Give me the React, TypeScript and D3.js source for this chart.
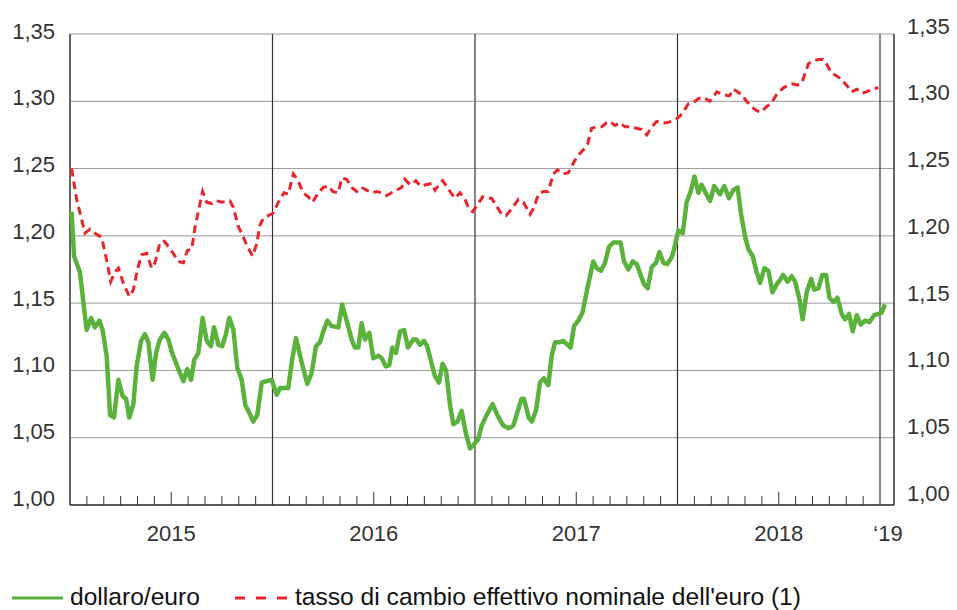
import React from 'react'
import * as d3 from 'd3'

// time is in years from 1 Jan 2015
const dollarEuro: [number, number][] = [
  [0.008,1.218],[0.020,1.185],[0.049,1.173],[0.082,1.130],[0.104,1.139],[0.123,1.132],[0.145,1.137],[0.161,1.130],[0.181,1.111],[0.198,1.067],
  [0.217,1.065],[0.239,1.093],[0.260,1.081],[0.277,1.079],[0.293,1.065],[0.313,1.075],[0.329,1.103],[0.351,1.122],[0.370,1.127],[0.387,1.121],
  [0.408,1.093],[0.425,1.113],[0.444,1.123],[0.466,1.128],[0.486,1.123],[0.502,1.114],[0.527,1.104],[0.560,1.092],[0.579,1.101],[0.598,1.093],
  [0.614,1.108],[0.634,1.113],[0.655,1.139],[0.675,1.122],[0.696,1.118],[0.711,1.132],[0.733,1.119],[0.752,1.118],[0.770,1.127],[0.787,1.139],
  [0.807,1.130],[0.826,1.102],[0.848,1.093],[0.866,1.074],[0.884,1.069],[0.905,1.062],[0.925,1.067],[0.947,1.091],[0.971,1.092],[0.996,1.093],
  [1.021,1.082],[1.037,1.087],[1.078,1.087],[1.098,1.109],[1.116,1.124],[1.144,1.106],[1.172,1.090],[1.193,1.098],[1.215,1.118],[1.235,1.121],
  [1.251,1.129],[1.271,1.137],[1.292,1.133],[1.325,1.132],[1.344,1.149],[1.366,1.137],[1.391,1.123],[1.407,1.117],[1.424,1.117],[1.440,1.135],
  [1.457,1.123],[1.478,1.128],[1.498,1.109],[1.523,1.111],[1.539,1.109],[1.560,1.103],[1.577,1.104],[1.592,1.117],[1.610,1.113],[1.630,1.129],
  [1.650,1.130],[1.669,1.117],[1.695,1.123],[1.711,1.123],[1.728,1.119],[1.748,1.122],[1.764,1.118],[1.786,1.105],[1.802,1.096],[1.822,1.091],
  [1.840,1.105],[1.857,1.100],[1.877,1.074],[1.893,1.060],[1.914,1.062],[1.934,1.070],[1.954,1.054],[1.975,1.042],[1.995,1.045],[2.016,1.049],
  [2.033,1.059],[2.058,1.067],[2.087,1.075],[2.110,1.067],[2.140,1.059],[2.165,1.057],[2.189,1.059],[2.230,1.079],[2.242,1.079],[2.265,1.065],
  [2.281,1.062],[2.301,1.070],[2.321,1.091],[2.340,1.094],[2.362,1.089],[2.379,1.111],[2.395,1.121],[2.420,1.121],[2.436,1.122],[2.472,1.117],
  [2.489,1.133],[2.510,1.137],[2.531,1.143],[2.555,1.161],[2.584,1.181],[2.601,1.176],[2.622,1.174],[2.642,1.180],[2.662,1.192],[2.683,1.195],
  [2.719,1.195],[2.736,1.181],[2.757,1.175],[2.779,1.181],[2.799,1.179],[2.818,1.171],[2.835,1.164],[2.853,1.161],[2.873,1.177],[2.894,1.180],
  [2.911,1.188],[2.930,1.180],[2.950,1.179],[2.971,1.184],[2.983,1.190],[3.004,1.204],[3.026,1.202],[3.045,1.225],[3.065,1.233],[3.084,1.244],
  [3.103,1.232],[3.119,1.238],[3.139,1.232],[3.161,1.226],[3.181,1.237],[3.210,1.231],[3.231,1.237],[3.254,1.228],[3.276,1.234],[3.297,1.236],
  [3.314,1.216],[3.333,1.200],[3.350,1.190],[3.371,1.185],[3.391,1.173],[3.408,1.165],[3.429,1.176],[3.449,1.174],[3.469,1.158],[3.490,1.164],
  [3.510,1.168],[3.521,1.171],[3.544,1.166],[3.564,1.170],[3.581,1.166],[3.602,1.153],[3.618,1.138],[3.638,1.158],[3.660,1.168],[3.675,1.160],
  [3.696,1.161],[3.715,1.171],[3.734,1.171],[3.750,1.154],[3.770,1.151],[3.790,1.154],[3.811,1.142],[3.827,1.138],[3.847,1.142],[3.865,1.129],
  [3.885,1.141],[3.905,1.134],[3.926,1.137],[3.948,1.136],[3.971,1.141],[3.992,1.142],[4.008,1.143],[4.025,1.149],
]

const effettivo: [number, number][] = [
  [0.008,1.250],[0.033,1.227],[0.053,1.215],[0.074,1.202],[0.099,1.205],[0.123,1.202],[0.156,1.199],[0.181,1.182],[0.201,1.166],[0.222,1.173],
  [0.239,1.176],[0.263,1.165],[0.293,1.155],[0.313,1.160],[0.333,1.175],[0.354,1.186],[0.379,1.187],[0.403,1.176],[0.420,1.180],[0.444,1.195],
  [0.466,1.196],[0.486,1.192],[0.510,1.187],[0.535,1.181],[0.560,1.180],[0.579,1.189],[0.601,1.190],[0.617,1.206],[0.639,1.222],[0.655,1.233],
  [0.675,1.225],[0.700,1.224],[0.724,1.226],[0.749,1.225],[0.790,1.226],[0.807,1.221],[0.831,1.207],[0.856,1.199],[0.876,1.192],[0.902,1.185],
  [0.922,1.194],[0.938,1.208],[0.955,1.213],[0.979,1.215],[1.004,1.217],[1.029,1.225],[1.057,1.232],[1.078,1.231],[1.103,1.246],[1.123,1.242],
  [1.152,1.232],[1.177,1.229],[1.198,1.225],[1.226,1.232],[1.251,1.236],[1.276,1.237],[1.297,1.233],[1.325,1.232],[1.342,1.243],[1.366,1.242],
  [1.391,1.236],[1.416,1.233],[1.440,1.236],[1.465,1.234],[1.490,1.232],[1.514,1.233],[1.539,1.232],[1.564,1.230],[1.588,1.232],[1.613,1.234],
  [1.638,1.236],[1.654,1.242],[1.679,1.238],[1.708,1.241],[1.731,1.237],[1.758,1.238],[1.786,1.239],[1.802,1.234],[1.823,1.238],[1.840,1.241],
  [1.860,1.237],[1.881,1.232],[1.901,1.228],[1.926,1.232],[1.951,1.227],[1.967,1.221],[1.988,1.218],[2.012,1.223],[2.038,1.229],[2.061,1.228],
  [2.082,1.228],[2.107,1.222],[2.132,1.216],[2.153,1.215],[2.181,1.220],[2.214,1.227],[2.239,1.225],[2.272,1.216],[2.291,1.221],[2.313,1.231],
  [2.338,1.233],[2.362,1.233],[2.387,1.246],[2.407,1.249],[2.436,1.246],[2.461,1.247],[2.489,1.255],[2.510,1.260],[2.535,1.264],[2.556,1.268],
  [2.576,1.280],[2.601,1.281],[2.626,1.281],[2.650,1.284],[2.667,1.285],[2.691,1.282],[2.716,1.284],[2.741,1.281],[2.774,1.281],[2.798,1.280],
  [2.823,1.279],[2.848,1.275],[2.873,1.281],[2.897,1.285],[2.922,1.284],[2.946,1.284],[2.988,1.286],[3.012,1.289],[3.032,1.293],[3.053,1.298],
  [3.078,1.299],[3.103,1.302],[3.127,1.303],[3.160,1.300],[3.194,1.307],[3.226,1.305],[3.256,1.304],[3.276,1.309],[3.317,1.305],[3.341,1.300],
  [3.366,1.296],[3.391,1.293],[3.412,1.292],[3.440,1.296],[3.465,1.299],[3.490,1.305],[3.523,1.310],[3.548,1.312],[3.570,1.313],[3.593,1.312],
  [3.615,1.314],[3.626,1.319],[3.647,1.328],[3.670,1.330],[3.694,1.331],[3.719,1.331],[3.735,1.328],[3.760,1.321],[3.785,1.319],[3.811,1.316],
  [3.835,1.312],[3.860,1.307],[3.885,1.309],[3.909,1.306],[3.934,1.307],[3.959,1.309],[3.992,1.310],
]

const yTicks = [1.0, 1.05, 1.1, 1.15, 1.2, 1.25, 1.3, 1.35]
const years = ['2015', '2016', '2017', '2018', '‘19']
const legend = ['dollaro/euro', "tasso di cambio effettivo nominale dell'euro (1)"]

const W = 957
const H = 610
const left = 70
const right = 894
const top = 34
const bottom = 505
const green = '#5ab23c'
const red = '#e6262b'
const font = '"Liberation Sans", Arial, sans-serif'

export default function App() {
  const x = d3.scaleLinear().domain([0, (right - left) / 202.5]).range([left, right])
  const y = d3.scaleLinear().domain([1, 1.35]).range([bottom, top])
  // labels sit a bit above their gridlines, and the right ones a bit more
  const yLabL = d3.scaleLinear().domain([1, 1.35]).range([498, 31])
  const yLabR = d3.scaleLinear().domain([1, 1.35]).range([493, 26])
  const fmt = (v: number) => d3.format('.2f')(v).replace('.', ',')

  const line = d3.line<[number, number]>()
    .x(d => x(d[0]))
    .y(d => y(d[1]))

  const months = d3.range(0, 49).filter(m => m % 12 !== 0 && x(m / 12) < right)

  return (
    <svg width={W} height={H} style={{ position: 'absolute', left: 0, top: 0 }}
      fontFamily={font}>
      <rect width={W} height={H} fill="white" />

      {yTicks.map(t => (
        <line key={t} x1={left} x2={right} y1={y(t)} y2={y(t)} stroke="#9a9a9a" strokeWidth={1} />
      ))}

      {d3.range(1, 5).map(k => (
        <line key={k} x1={x(k)} x2={x(k)} y1={top} y2={bottom} stroke="#333" strokeWidth={1.2} />
      ))}
      <line x1={left} x2={left} y1={top} y2={bottom} stroke="#333" strokeWidth={1.5} />
      <line x1={right} x2={right} y1={top} y2={bottom} stroke="#333" strokeWidth={1.5} />
      <line x1={left} x2={right} y1={bottom} y2={bottom} stroke="#333" strokeWidth={1.5} />

      {months.map(m => (
        <line key={m} x1={x(m / 12)} x2={x(m / 12)} y1={bottom} y2={bottom - (m % 12 === 6 ? 13 : 9)}
          stroke="#333" strokeWidth={1} />
      ))}

      {yTicks.map(t => (
        <text key={'l' + t} x={55} y={yLabL(t)} dy="0.35em" textAnchor="end" fontSize={22} fill="#333">{fmt(t)}</text>
      ))}
      {yTicks.map(t => (
        <text key={'r' + t} x={907} y={yLabR(t)} dy="0.35em" textAnchor="start" fontSize={22} fill="#333">{fmt(t)}</text>
      ))}

      {years.map((yr, i) => (
        <text key={yr} x={i < 4 ? x(i + 0.5) : (x(4) + right) / 2 + 1} y={541} textAnchor="middle"
          fontSize={22} fill="#333">{yr}</text>
      ))}

      <path d={line(effettivo) || ''} fill="none" stroke={red} strokeWidth={3} strokeDasharray="8,5" />
      <path d={line(dollarEuro) || ''} fill="none" stroke={green} strokeWidth={4.5} strokeLinejoin="round" />

      <line x1={12} x2={63} y1={598} y2={598} stroke={green} strokeWidth={3} />
      <text x={70} y={605} fontSize={24.6} fill="#111">{legend[0]}</text>
      <line x1={235} x2={287} y1={598} y2={598} stroke={red} strokeWidth={3} strokeDasharray="10,11" />
      <text x={295} y={605} fontSize={24.6} fill="#111">{legend[1]}</text>
    </svg>
  )
}
